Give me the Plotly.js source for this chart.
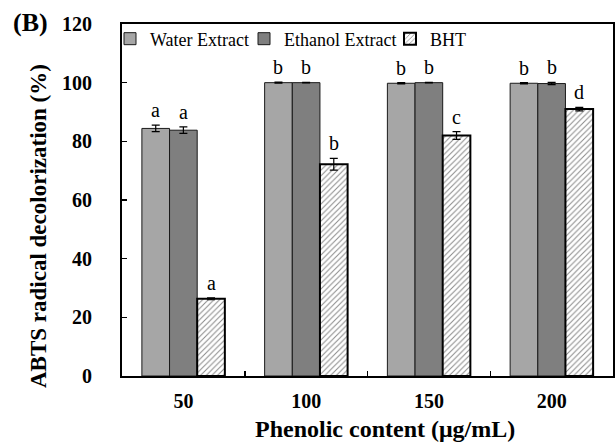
<!DOCTYPE html>
<html><head><meta charset="utf-8">
<script src="https://cdn.plot.ly/plotly-3.0.1.min.js"></script>
<style>html,body{margin:0;padding:0;background:#fff}#chart{width:615px;height:443px}</style>
</head><body><div id="chart"></div>
<script>
var categories = ["50", "100", "150", "200"];
var waterValues = [84.4, 100.0, 99.8, 99.8];
var waterErrors = [1.1, 0.2, 0.2, 0.2];
var waterLetters = ["a", "b", "b", "b"];
var ethanolValues = [83.8, 100.0, 100.0, 99.7];
var ethanolErrors = [1.1, 0.1, 0.1, 0.4];
var ethanolLetters = ["a", "b", "b", "b"];
var bhtValues = [26.3, 72.2, 82.0, 91.0];
var bhtErrors = [0.3, 2.0, 1.3, 0.6];
var bhtLetters = ["a", "b", "c", "d"];
var seriesNames = ["Water Extract", "Ethanol Extract", "BHT"];
var yTicks = [0, 20, 40, 60, 80, 100, 120];

var serif = "Liberation Serif";
function err(a){return {type:"data", array:a, visible:true, color:"#000", thickness:1.2, width:4};}
var traces = [
  {type:"bar", name:seriesNames[0], legend:"legend", x:categories, y:waterValues, error_y:err(waterErrors),
   marker:{color:"#a6a6a6", line:{color:"#1a1a1a", width:1}}},
  {type:"bar", name:seriesNames[1], legend:"legend2", x:categories, y:ethanolValues, error_y:err(ethanolErrors),
   marker:{color:"#7f7f7f", line:{color:"#1a1a1a", width:1}}},
  {type:"bar", name:seriesNames[2], legend:"legend3", x:categories, y:bhtValues, error_y:err(bhtErrors),
   marker:{color:"#ffffff", line:{color:"#000", width:2},
     pattern:{shape:"/", fgcolor:"#8a8a8a", bgcolor:"#ffffff", size:4, solidity:0.25}}}
];

var L = 122, R = 2, T = 24, B = 67;
var plotW = 615 - L - R, plotH = 443 - T - B;
var barPx = plotW / categories.length * 0.676 / 3;
var annotations = [];
var sets = [[waterValues, waterErrors, waterLetters], [ethanolValues, ethanolErrors, ethanolLetters], [bhtValues, bhtErrors, bhtLetters]];
sets.forEach(function(s, k){
  categories.forEach(function(c, i){
    annotations.push({x:i, y:s[0][i] + s[1][i], xref:"x", yref:"y", text:s[2][i], showarrow:false,
      yanchor:"bottom", xshift:(k-1)*barPx, yshift:2, font:{family:serif, size:20, color:"#000"}});
  });
});
annotations.push({x:(11-L)/plotW, y:(T+plotH-22)/plotH, xref:"paper", yref:"paper", xanchor:"left", yanchor:"middle",
  text:"<b>(B)</b>", showarrow:false, font:{family:serif, size:26, color:"#000"}});
annotations.push({x:(38-L)/plotW, y:(T+plotH-226)/plotH, xref:"paper", yref:"paper", xanchor:"center", yanchor:"middle",
  textangle:-90, text:"<b>ABTS radical decolorization (%)</b>", showarrow:false, font:{family:serif, size:23, color:"#000"}});
annotations.push({x:(385-L)/plotW, y:(T+plotH-429)/plotH, xref:"paper", yref:"paper", xanchor:"center", yanchor:"middle",
  text:"<b>Phenolic content (μg/mL)</b>", showarrow:false, font:{family:serif, size:24, color:"#000"}});

function leg(px){
  return {orientation:"h", x:(px-L)/plotW, xanchor:"left", y:1.01, yanchor:"top",
    font:{family:serif, size:18, color:"#000"}, bgcolor:"rgba(0,0,0,0)", itemwidth:30};
}
var layout = {
  width:615, height:443,
  margin:{l:L, r:R, t:T, b:B},
  paper_bgcolor:"#fff", plot_bgcolor:"#fff",
  barmode:"group", bargap:0.324, bargroupgap:0,
  showlegend:true,
  font:{family:serif, color:"#000"},
  legend:leg(110), legend2:leg(244), legend3:leg(390),
  xaxis:{type:"category", range:[-0.5, 3.5], showline:true, linecolor:"#000", linewidth:2, mirror:true,
    ticks:"inside", tickson:"boundaries", ticklen:5, tickwidth:1.5, tickcolor:"#000",
    tickfont:{family:serif, size:20, color:"#000", weight:"bold"},
    ticklabelstandoff:6},
  yaxis:{range:[0,120], tickvals:yTicks, showline:true, linecolor:"#000", linewidth:2, mirror:true,
    showgrid:false, zeroline:false, ticks:"inside", ticklen:5, tickwidth:1.5, tickcolor:"#000",
    tickfont:{family:serif, size:20, color:"#000", weight:"bold"},
    ticklabelstandoff:24},
  annotations:annotations
};
Plotly.newPlot("chart", traces, layout, {displayModeBar:false, staticPlot:true});
</script></body></html>
